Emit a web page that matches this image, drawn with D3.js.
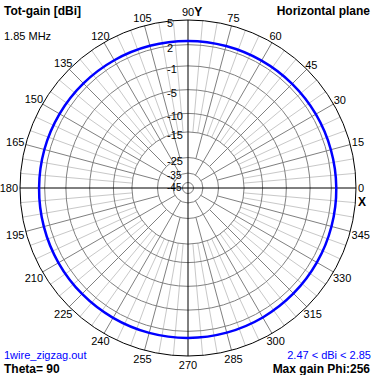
<!DOCTYPE html>
<html>
<head>
<meta charset="utf-8">
<script src="https://cdn.jsdelivr.net/npm/d3@7"></script>
<style>
  body { margin: 0; background: #fff; }
  svg { display: block; }
  text { font-family: "Liberation Sans", Arial, sans-serif; }
</style>
</head>
<body>
<div id="chart"></div>
<script>
// dB rings (outer ring first) and their labels
const ringLevels = [5, 2, -1, -5, -10, -15, -25, -35, -45];
const ringLabels = ["5", "2", "-1", "-5", "-10", "-15", "-25", "-35", "-45"];
// angle labels every 15 deg (counter-clockwise from the X axis)
const angleTicks = [0, 15, 30, 45, 60, 75, 90, 105, 120, 135, 150, 165,
                    180, 195, 210, 225, 240, 255, 270, 285, 300, 315, 330, 345];
// total gain, horizontal plane
const phi = [0, 15, 30, 45, 60, 75, 90, 105, 120, 135, 150, 165,
             180, 195, 210, 225, 240, 255, 270, 285, 300, 315, 330, 345];
const gain = [2.64, 2.59, 2.55, 2.51, 2.48, 2.47, 2.48, 2.50, 2.54, 2.59, 2.64, 2.69,
              2.72, 2.76, 2.80, 2.83, 2.84, 2.85, 2.84, 2.82, 2.79, 2.75, 2.71, 2.67];

const width = 374, height = 375;
const cx = 188, cy = 188, R = 168;

const svg = d3.select("#chart").append("svg")
    .attr("width", width)
    .attr("height", height);

svg.append("rect").attr("width", width).attr("height", height).attr("fill", "#fff");

// ARRL-like log radial scale
const k = 0.05;
const rLin = d3.scaleLinear()
    .domain([Math.exp(k * -45), Math.exp(k * 5)])
    .range([5.5, R]);
const r = db => rLin(Math.exp(k * db));

const g = svg.append("g").attr("transform", `translate(${cx},${cy})`);

function spoke(deg, r0, r1, color) {
  const a = deg * Math.PI / 180;
  g.append("line")
    .attr("x1", r0 * Math.cos(a)).attr("y1", -r0 * Math.sin(a))
    .attr("x2", r1 * Math.cos(a)).attr("y2", -r1 * Math.sin(a))
    .attr("stroke", color)
    .attr("stroke-width", 1);
}

// light 5 deg spokes
d3.range(0, 360, 5).filter(d => d % 15 !== 0)
  .forEach(d => spoke(d, r(-15), R, "#c8c8c8"));
// dark 15 deg spokes
angleTicks.filter(d => d % 90 !== 0)
  .forEach(d => spoke(d, d % 30 === 0 ? r(-35) : r(-25), R, "#808080"));

// rings
g.selectAll(".ring")
  .data(ringLevels.slice(1))
  .enter().append("circle")
  .attr("class", "ring")
  .attr("r", d => r(d))
  .attr("fill", "none")
  .attr("stroke", "#808080");

g.append("circle")
  .attr("r", R)
  .attr("fill", "none")
  .attr("stroke", "#000");

// axes
g.append("line").attr("x1", -R).attr("x2", R).attr("y1", 0).attr("y2", 0).attr("stroke", "#000");
g.append("line").attr("y1", -R).attr("y2", R).attr("x1", 0).attr("x2", 0).attr("stroke", "#000");

// gain trace
const trace = d3.lineRadial()
  .angle(d => (90 - d[0]) * Math.PI / 180)
  .radius(d => r(d[1]))
  .curve(d3.curveCardinalClosed);

g.append("path")
  .datum(d3.zip(phi, gain))
  .attr("d", trace)
  .attr("fill", "none")
  .attr("stroke", "#0000ff")
  .attr("stroke-width", 2.5);

// ring labels (the two inner ones squeezed apart a little)
g.selectAll(".ring-label")
  .data(ringLevels)
  .enter().append("text")
  .attr("class", "ring-label")
  .attr("x", -21)
  .attr("y", d => -r(d) + (d === -35 ? 5.5 : d === -45 ? 8 : 7))
  .attr("font-size", d => d <= -35 ? 10 : 11)
  .text((d, i) => ringLabels[i]);

// angle labels
const R0 = 170;
angleTicks.forEach(d => {
  const a = d * Math.PI / 180;
  const t = g.append("text")
    .attr("font-size", 11)
    .attr("text-anchor", "middle")
    .text(d);
  const w = t.node().getBBox().width;
  const off = Math.max(w / 2 * Math.abs(Math.cos(a)), 6 * Math.abs(Math.sin(a)));
  const dist = R0 + off;
  const dy = Math.sin(a) < 0 ? 5 : 4;
  t.attr("x", dist * Math.cos(a))
   .attr("y", -dist * Math.sin(a) + dy);
  if (d === 90) {
    g.append("text").attr("font-size", 12).attr("font-weight", "bold")
      .attr("x", dist * Math.cos(a) + w / 2).attr("y", -dist * Math.sin(a) + dy)
      .text("Y");
  }
  if (d === 0) {
    g.append("text").attr("font-size", 12).attr("font-weight", "bold")
      .attr("x", dist * Math.cos(a) - 3).attr("y", 18)
      .text("X");
  }
});

// corner texts
svg.append("text").attr("x", 4).attr("y", 15)
  .attr("font-size", 12).attr("font-weight", "bold").text("Tot-gain [dBi]");
svg.append("text").attr("x", 4).attr("y", 40)
  .attr("font-size", 11).text("1.85 MHz");
svg.append("text").attr("x", 370).attr("y", 15).attr("text-anchor", "end")
  .attr("font-size", 12).attr("font-weight", "bold").text("Horizontal plane");
svg.append("text").attr("x", 4).attr("y", 359)
  .attr("font-size", 11).attr("fill", "#0000ff").text("1wire_zigzag.out");
svg.append("text").attr("x", 4).attr("y", 373)
  .attr("font-size", 12).attr("font-weight", "bold").text("Theta= 90");
svg.append("text").attr("x", 371).attr("y", 359).attr("text-anchor", "end")
  .attr("font-size", 11).attr("fill", "#0000ff").text("2.47 < dBi < 2.85");
svg.append("text").attr("x", 370).attr("y", 373).attr("text-anchor", "end")
  .attr("font-size", 12).attr("font-weight", "bold").text("Max gain Phi:256");
</script>
</body>
</html>
